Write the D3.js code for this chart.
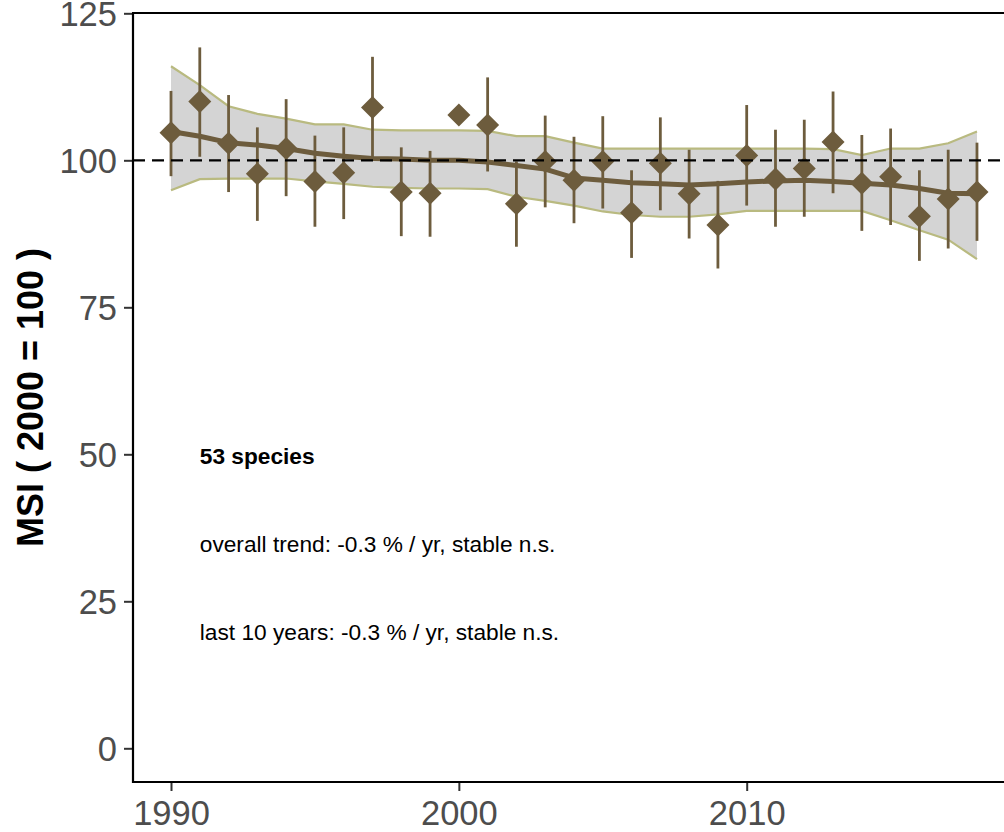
<!DOCTYPE html>
<html>
<head>
<meta charset="utf-8">
<script src="https://cdn.jsdelivr.net/npm/d3@7"></script>
<style>
  html, body { margin: 0; padding: 0; background: #ffffff; }
  svg { display: block; }
</style>
</head>
<body>
<svg id="chart" width="1004" height="832"></svg>
<script>
// ---- data ----
const years = [1990,1991,1992,1993,1994,1995,1996,1997,1998,1999,2000,2001,2002,2003,2004,2005,2006,2007,2008,2009,2010,2011,2012,2013,2014,2015,2016,2017,2018];
const msi = [104.7,110.0,102.9,97.7,102.0,96.4,97.9,109.0,94.6,94.4,107.7,106.0,92.6,99.8,96.6,99.8,91.1,99.5,94.3,89.0,100.8,96.8,98.6,103.1,96.1,97.2,90.5,93.4,94.6];
const msiLower = [97.3,100.6,94.6,89.7,93.9,88.7,90.0,100.3,87.1,87.0,null,98.1,85.3,92.0,89.3,91.8,83.4,91.5,86.7,81.6,92.3,88.7,90.4,94.4,88.0,89.0,82.9,85.0,86.3];
const msiUpper = [111.8,119.2,111.1,105.6,110.4,104.2,105.6,117.6,102.2,101.6,null,114.1,99.8,107.6,104.0,107.5,98.3,107.3,101.8,96.5,109.4,105.2,106.9,111.7,104.3,105.4,98.3,101.8,103.0];
const trend = [104.9,104.1,103.0,102.6,102.0,101.2,100.7,100.3,100.2,100.0,100.0,99.7,99.1,98.5,97.0,96.6,96.2,96.0,95.8,96.0,96.3,96.5,96.6,96.4,96.1,95.8,95.2,94.4,94.3];
const trendUpper = [116.0,112.8,109.2,107.9,107.1,106.1,106.1,105.2,105.1,105.1,105.1,105.0,104.1,104.1,103.0,102.0,102.0,102.0,102.0,102.0,102.0,102.0,102.0,101.9,100.9,102.0,102.0,102.9,104.9];
const trendLower = [94.9,96.8,96.9,96.9,96.9,96.4,96.0,95.5,95.3,95.2,95.2,95.1,93.8,93.1,92.3,91.3,90.7,90.4,90.4,90.8,91.4,91.4,91.4,91.4,91.4,89.8,88.1,86.5,83.2];
const yTicks = [0,25,50,75,100,125];
const xTicks = [1990,2000,2010];
const yLabel = "MSI ( 2000 = 100 )";
const notes = [
  {text: "53 species", value: 50, bold: true},
  {text: "overall trend: -0.3 % / yr, stable n.s.", value: 35, bold: false},
  {text: "last 10 years: -0.3 % / yr, stable n.s.", value: 20, bold: false}
];
const noteYear = 1991;
const baseline = 100;

// ---- layout ----
const mLeft = 133, mBottom = 782, mTop = 13, mRight = 1004;
const x = d3.scaleLinear().domain([1990, 2010]).range([171, 746.7]);
const y = d3.scaleLinear().domain([0, 125]).range([748.3, 13.3]);

const brown = "#6d5c3d";
const font = "'Liberation Sans', Arial, Helvetica, sans-serif";
const svg = d3.select("#chart");

const data = years.map((yr, i) => ({
  yr, v: msi[i], lo: msiLower[i], hi: msiUpper[i],
  t: trend[i], tu: trendUpper[i], tl: trendLower[i]
}));

// ribbon
svg.append("path")
  .datum(data)
  .attr("d", d3.area().x(d => x(d.yr)).y0(d => y(d.tl)).y1(d => y(d.tu)))
  .attr("fill", "#d4d4d4");
const ribbonColor = "#b9ba80";
svg.append("path").datum(data)
  .attr("d", d3.line().x(d => x(d.yr)).y(d => y(d.tu)))
  .attr("fill", "none").attr("stroke", ribbonColor).attr("stroke-width", 2.2);
svg.append("path").datum(data)
  .attr("d", d3.line().x(d => x(d.yr)).y(d => y(d.tl)))
  .attr("fill", "none").attr("stroke", ribbonColor).attr("stroke-width", 2.2);

// trend line
svg.append("path").datum(data)
  .attr("d", d3.line().x(d => x(d.yr)).y(d => y(d.t)))
  .attr("fill", "none").attr("stroke", brown).attr("stroke-width", 5)
  .attr("stroke-linejoin", "round");

// error bars
svg.append("g").selectAll("line")
  .data(data.filter(d => d.lo !== null))
  .join("line")
  .attr("x1", d => x(d.yr)).attr("x2", d => x(d.yr))
  .attr("y1", d => y(d.lo)).attr("y2", d => y(d.hi))
  .attr("stroke", brown).attr("stroke-width", 2.8);

// diamonds
const ds = 11.5;
svg.append("g").selectAll("path")
  .data(data)
  .join("path")
  .attr("transform", d => `translate(${x(d.yr)},${y(d.v)})`)
  .attr("d", `M0,${-ds}L${ds},0L0,${ds}L${-ds},0Z`)
  .attr("fill", brown);

// reference dashed line
svg.append("line")
  .attr("x1", mLeft).attr("x2", mRight)
  .attr("y1", y(baseline)).attr("y2", y(baseline))
  .attr("stroke", "#000").attr("stroke-width", 2.2)
  .attr("stroke-dasharray", "12,7");

// axes
const yAxis = d3.axisLeft(y).tickValues(yTicks).tickSize(9).tickPadding(7).tickSizeOuter(0);
const gy = svg.append("g").attr("transform", `translate(${mLeft},0)`).call(yAxis);
gy.select(".domain").remove();
gy.selectAll(".tick line").attr("stroke", "#333").attr("stroke-width", 2);
gy.selectAll(".tick text").attr("font-family", font).attr("font-size", 34.5)
  .attr("fill", "#4d4d4d").attr("dy", "0.36em");

const xAxis = d3.axisBottom(x).tickValues(xTicks).tickFormat(d3.format("d")).tickSize(9).tickPadding(9.5).tickSizeOuter(0);
const gx = svg.append("g").attr("transform", `translate(0,${mBottom})`).call(xAxis);
gx.select(".domain").remove();
gx.selectAll(".tick line").attr("stroke", "#333").attr("stroke-width", 2);
gx.selectAll(".tick text").attr("font-family", font).attr("font-size", 34.5)
  .attr("fill", "#4d4d4d");

// frame lines
svg.append("line").attr("x1", mLeft).attr("x2", mLeft).attr("y1", mTop).attr("y2", mBottom + 1)
  .attr("stroke", "#000").attr("stroke-width", 2.2);
svg.append("line").attr("x1", mLeft - 1).attr("x2", mRight).attr("y1", mBottom).attr("y2", mBottom)
  .attr("stroke", "#000").attr("stroke-width", 2.2);
svg.append("line").attr("x1", mLeft - 1).attr("x2", mRight).attr("y1", mTop).attr("y2", mTop)
  .attr("stroke", "#000").attr("stroke-width", 2.2);

// y label
svg.append("text")
  .attr("transform", `translate(43,${(mTop + mBottom) / 2}) rotate(-90)`)
  .attr("text-anchor", "middle")
  .attr("font-family", font).attr("font-weight", "bold").attr("font-size", 36)
  .attr("fill", "#000")
  .text(yLabel);

// annotations
svg.append("g").selectAll("text")
  .data(notes)
  .join("text")
  .attr("x", x(noteYear))
  .attr("y", d => y(d.value))
  .attr("dy", "0.43em")
  .attr("font-family", font).attr("font-size", 22.7)
  .attr("font-weight", d => d.bold ? "bold" : "normal")
  .attr("fill", "#000")
  .text(d => d.text);
</script>
</body>
</html>
